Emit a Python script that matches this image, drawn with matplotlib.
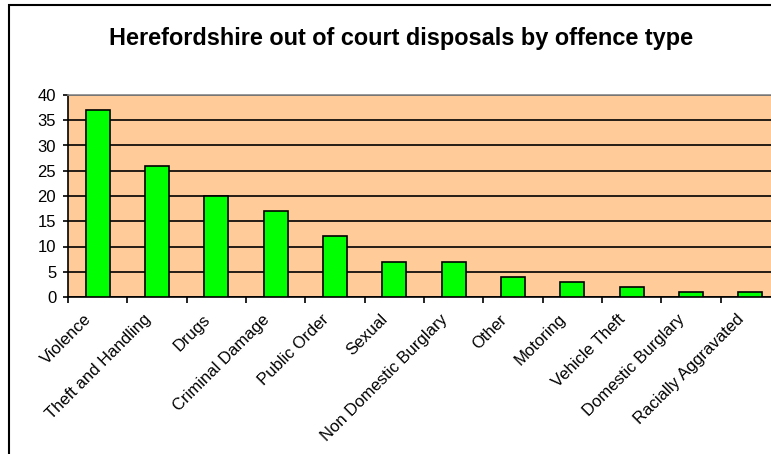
import matplotlib
matplotlib.use("Agg")
import matplotlib.pyplot as plt
from matplotlib.patches import Rectangle
from matplotlib.transforms import ScaledTranslation
import numpy as np

# offence types and number of disposals
offences = ["Violence", "Theft and Handling", "Drugs", "Criminal Damage",
            "Public Order", "Sexual", "Non Domestic Burglary", "Other",
            "Motoring", "Vehicle Theft", "Domestic Burglary", "Racially Aggravated"]
disposals = [37, 26, 20, 17, 12, 7, 7, 4, 3, 2, 1, 1]
y_ticks = [0, 5, 10, 15, 20, 25, 30, 35, 40]

plt.rcParams['font.family'] = ['Liberation Sans', 'DejaVu Sans']

W, H = 771, 454
fig = plt.figure(figsize=(W / 100, H / 100), dpi=100)

# plot area in pixels
left, right, top, bottom = 68, 780, 95, 297
ax = fig.add_axes([left / W, 1 - bottom / H, (right - left) / W, (bottom - top) / H])
ax.set_facecolor("#FFCC99")

x = np.arange(len(offences))
ax.bar(x, disposals, width=0.41, color="#00FF00", edgecolor="black", linewidth=1.2, zorder=3)

ax.set_xlim(-0.5, len(offences) - 0.5)
ax.set_ylim(0, 40)
ax.set_yticks(y_ticks)
ax.yaxis.grid(True, color="black", linewidth=1.2, zorder=1)
ax.set_axisbelow(True)

# category boundaries get tick marks, labels sit in the middle
ax.set_xticks(np.arange(len(offences) + 1) - 0.5)
ax.set_xticklabels([])
ax.set_xticks(x, minor=True)
ax.set_xticklabels(offences, minor=True, rotation=45, ha="right",
                   rotation_mode="anchor", fontsize=12)
ax.tick_params(axis="x", which="minor", length=0, pad=10.5)
ax.tick_params(axis="x", which="major", length=4, width=1.2, direction="out")
ax.tick_params(axis="y", length=3.5, width=1.2, direction="out", labelsize=12, pad=5)

shift = ScaledTranslation(-14 / 100, 0, fig.dpi_scale_trans)
for lbl in ax.get_xticklabels(minor=True):
    lbl.set_transform(lbl.get_transform() + shift)

for s in ["left", "bottom"]:
    ax.spines[s].set_color("black")
    ax.spines[s].set_linewidth(1.2)
ax.spines["top"].set_color("#888888")
ax.spines["top"].set_linewidth(1.2)
ax.spines["right"].set_visible(False)

fig.text(401 / W, 1 - 38 / H, "Herefordshire out of court disposals by offence type",
         ha="center", va="center", fontsize=16.9, fontweight="bold")

# outer chart border
fig.patches.append(Rectangle((9 / W, -0.1), 1.2, 1 - 5 / H + 0.1,
                             transform=fig.transFigure, fill=False,
                             edgecolor="black", linewidth=1.5))

fig.savefig("out.png", dpi=100)
